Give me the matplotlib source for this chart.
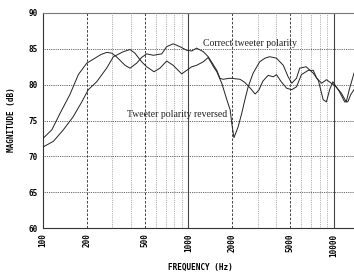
import matplotlib
matplotlib.use("Agg")
import matplotlib.pyplot as plt

# Correct tweeter polarity
freq_correct = [100, 115, 131, 153, 175, 200, 228, 250, 274, 297, 320, 367, 397, 441,
                477, 517, 574, 656, 709, 787, 876, 974, 1055, 1140, 1269, 1370, 1570,
                1650, 1730, 1940, 2270, 2450, 2670, 2880, 3050, 3260, 3540, 3850, 4040,
                4360, 4750, 5150, 5550, 6000, 6680, 7240, 7640, 8270, 8920, 9630, 10400,
                10900, 11900, 12500, 13100, 13800]
db_correct = [72.5, 73.7, 76.0, 78.6, 81.4, 83.0, 83.7, 84.2, 84.5, 84.4, 83.9, 82.7, 82.3, 83.0,
              83.8, 84.3, 84.1, 84.3, 85.3, 85.7, 85.3, 84.8, 84.7, 85.1, 84.6, 83.9, 82.0,
              80.9, 80.75, 80.9, 80.75, 80.3, 79.5, 78.7, 79.2, 80.5, 81.3, 81.1, 81.4,
              80.4, 79.5, 79.3, 79.7, 81.4, 82.0, 82.0, 80.9, 80.2, 80.7, 80.2, 79.7,
              79.1, 77.6, 77.6, 78.6, 79.3]

# Tweeter polarity reversed
freq_reversed = [100, 118, 138, 161, 185, 205, 234, 274, 305, 357, 397, 429, 477, 517,
                 580, 638, 709, 787, 900, 974, 1055, 1140, 1269, 1370, 1490, 1570, 1698,
                 1840, 1940, 1990, 2060, 2200, 2330, 2450, 2580, 2790, 3100, 3370, 3630,
                 4040, 4500, 4860, 5150, 5550, 5840, 6460, 7240, 7840, 8470, 8920, 9380,
                 9880, 10400, 11300, 12200, 12800, 13800]
db_reversed = [71.3, 72.1, 73.7, 75.5, 77.6, 79.3, 80.4, 82.3, 83.9, 84.6, 84.9, 84.4, 83.2, 82.5,
               81.8, 82.3, 83.3, 82.7, 81.5, 82.0, 82.5, 82.7, 83.2, 83.8, 82.5, 81.8, 80.2,
               77.9, 76.5, 74.6, 72.6, 74.1, 76.0, 77.9, 79.7, 81.6, 83.2, 83.7, 83.9,
               83.7, 82.7, 81.1, 80.2, 80.9, 82.3, 82.5, 81.6, 80.6, 77.9, 77.6, 79.3,
               80.4, 79.7, 78.8, 77.6, 79.3, 81.6]

xticks = [100, 200, 500, 1000, 2000, 5000, 10000]
xtick_labels = ["100", "200", "500", "1000", "2000", "5000", "10000"]
yticks = [60, 65, 70, 75, 80, 85, 90]

fig = plt.figure(figsize=(3.54, 2.72), dpi=100)
ax = fig.add_axes([43 / 354, 1 - 228 / 272, 1 - 43 / 354, (228 - 13) / 272])

ax.set_xscale("log")
ax.set_xlim(100, 13800)
ax.set_ylim(60, 90)

# grid
for f in [300, 400, 600, 700, 800, 900, 3000, 4000, 6000, 7000, 8000, 9000]:
    ax.axvline(f, color="#999999", lw=0.6, ls=(0, (1, 1.2)), zorder=1)
for f in [200, 500, 2000, 5000]:
    ax.axvline(f, color="#222222", lw=0.6, ls=(0, (3, 2)), zorder=1)
for f in [1000, 10000]:
    ax.axvline(f, color="#444444", lw=0.8, zorder=1)
for y in [65, 70, 75, 80, 85]:
    ax.axhline(y, color="#333333", lw=0.6, ls=(0, (1, 1.2)), zorder=1)

ax.plot(freq_correct, db_correct, color="#222222", lw=0.7, zorder=3)
ax.plot(freq_reversed, db_reversed, color="#222222", lw=0.7, zorder=3)

ax.text(1262, 85.8, "Correct tweeter polarity", family="Liberation Serif",
        fontsize=7, va="center", ha="left", color="#222222")
ax.text(378, 75.9, "Tweeter polarity reversed", family="Liberation Serif",
        fontsize=7, va="center", ha="left", color="#222222")

ax.set_xticks(xticks)
ax.set_xticklabels(xtick_labels, rotation=90, family="DejaVu Sans Mono",
                   fontsize=5.5, fontweight="bold")
ax.xaxis.set_minor_locator(matplotlib.ticker.NullLocator())
ax.set_yticks(yticks)
ax.set_yticklabels([str(v) for v in yticks], family="DejaVu Sans Mono",
                   fontsize=5.5, fontweight="bold")
ax.tick_params(length=0, pad=4)

ax.spines["right"].set_visible(False)
ax.spines["top"].set_color("#777777")
ax.spines["top"].set_linewidth(0.8)
ax.spines["left"].set_color("#333333")
ax.spines["bottom"].set_color("#333333")

fig.text(200 / 354, 1 - 267 / 272, "FREQUENCY (Hz)", family="DejaVu Sans Mono",
         fontsize=5.5, fontweight="bold", ha="center", va="center")
fig.text(12 / 354, 1 - 120 / 272, "MAGNITUDE (dB)", family="DejaVu Sans Mono",
         fontsize=5.5, fontweight="bold", ha="center", va="center", rotation=90)

fig.savefig("out.png", dpi=100)
